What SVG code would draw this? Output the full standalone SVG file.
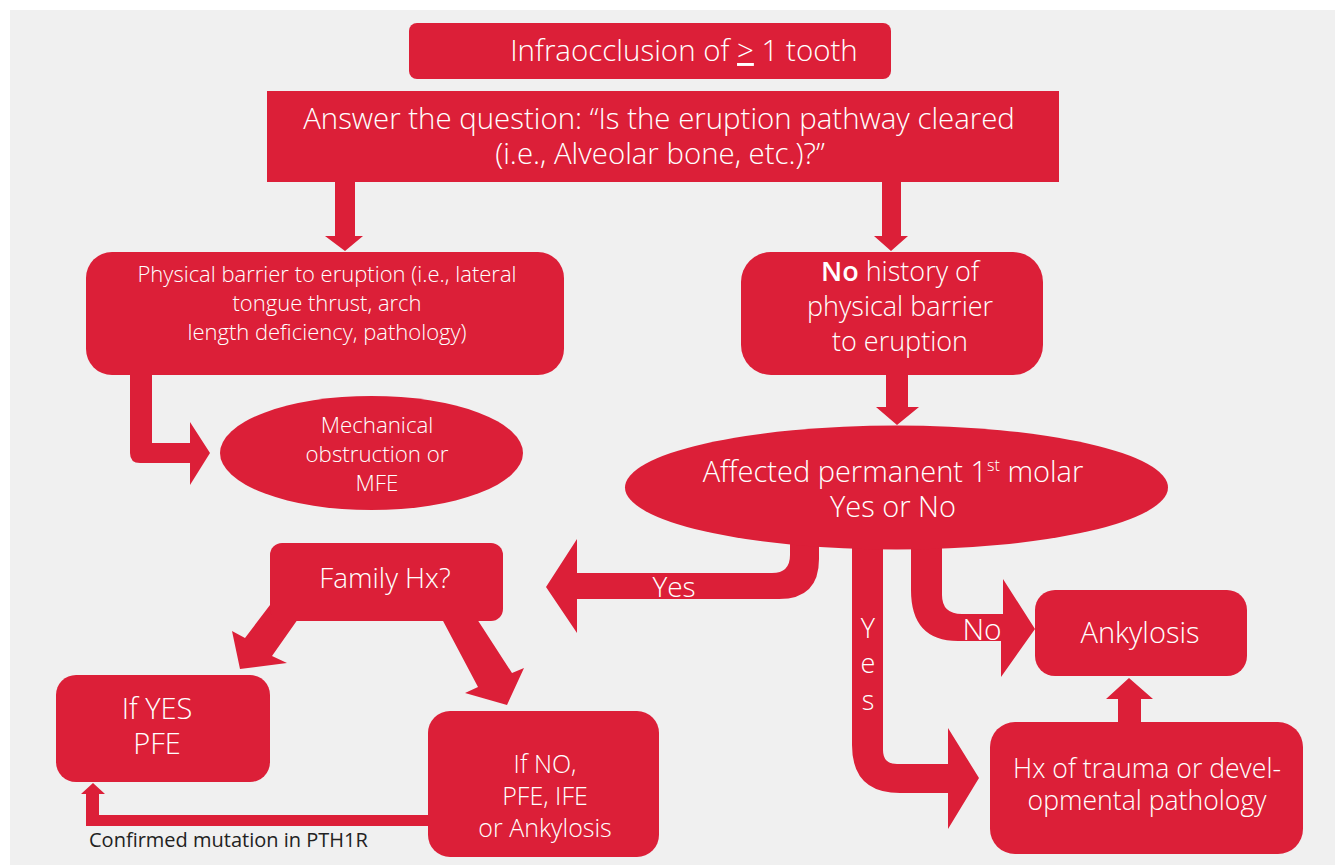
<svg xmlns="http://www.w3.org/2000/svg" width="1335" height="865" viewBox="0 0 1335 865">
<style>
.n{fill:#dc1f38}
.c{fill:#dc1f38}
text{font-family:"Open Sans","Liberation Sans",sans-serif;font-weight:300;fill:#ffffff}
.lbl{font-size:20px;fill:#222222;font-weight:400}
</style>
<rect x="0" y="0" width="1335" height="865" fill="#ffffff"/>
<rect x="10" y="10" width="1325" height="855" fill="#f0f0f0"/>

<g id="connectors">
  <path class="c" d="M335 180 L355 180 L355 236 L363 236 L345 251 L325 236 L335 236 Z"/>
  <path class="c" d="M882 180 L901 180 L901 236 L908 236 L891 251 L874 236 L882 236 Z"/>
  <path class="c" d="M130 372 L152 372 L152 443 L190 443 L190 422 L210 453 L190 485 L190 463 L140 463 Q130 463 130 453 Z"/>
  <path class="c" d="M886 370 L908 370 L908 407 L919 407 L897 425 L876 407 L886 407 Z"/>
  <path class="c" d="M819 540 L819 559 Q819 599 779 599 L577 599 L577 633 L546 587 L577 539 L577 573 L772 573 Q790 573 790 555 L790 540 Z"/>
  <path class="c" d="M852 540 L852 745 Q852 793 900 793 L948 793 L948 829 L979 778 L948 728 L948 764 L897 764 Q883 764 883 750 L883 540 Z"/>
  <path class="c" d="M911 540 L911 590 Q911 641 958 641 L1001 641 L1001 677 L1035 629 L1003 579 L1003 614 L962 614 Q942 614 942 595 L942 540 Z"/>
  <path class="c" d="M1118 724 L1118 699 L1106 699 L1129 678 L1153 699 L1141 699 L1141 724 Z"/>
  <path class="c" d="M270 605 L245 638 L232 631 L240 669 L287 663 L272 656 L298 619 Z"/>
  <path class="c" d="M442 619 L478 687 L465 693 L507 705 L524 668 L512 673 L477 619 Z"/>
  <path class="c" d="M430 815 L99 815 L99 794 L105 794 L93 783 L81 794 L86 794 L86 826 L430 826 Z"/>
  <text font-size="28" x="674" y="597" text-anchor="middle">Yes</text>
  <text font-size="27" x="868" y="638" text-anchor="middle">Y</text>
  <text font-size="27" x="868" y="673" text-anchor="middle">e</text>
  <text font-size="27" x="868" y="710" text-anchor="middle">s</text>
  <text font-size="30" x="982" y="640" text-anchor="middle">No</text>
  <text class="lbl" x="89" y="847">Confirmed mutation in PTH1R</text>
</g>

<g id="node-infraocclusion">
  <rect class="n" x="409" y="23" width="482" height="56" rx="8"/>
  <text font-size="29.5" x="684" y="61" text-anchor="middle">Infraocclusion of <tspan text-decoration="underline">&gt;</tspan> 1 tooth</text>
</g>

<g id="node-question">
  <rect class="n" x="267" y="91" width="792" height="91"/>
  <text font-size="29.4" x="659" y="129" text-anchor="middle">Answer the question: “Is the eruption pathway cleared</text>
  <text font-size="29.4" x="660" y="164" text-anchor="middle">(i.e., Alveolar bone, etc.)?”</text>
</g>

<g id="node-physical-barrier">
  <rect class="n" x="86" y="252" width="478" height="123" rx="26"/>
  <text font-size="22" x="327" y="282" text-anchor="middle">Physical barrier to eruption (i.e., lateral</text>
  <text font-size="22" x="327" y="311" text-anchor="middle">tongue thrust, arch</text>
  <text font-size="22" x="327" y="340" text-anchor="middle">length deficiency, pathology)</text>
</g>

<g id="node-no-history">
  <rect class="n" x="741" y="252" width="302" height="123" rx="30"/>
  <text font-size="27" x="900" y="281" text-anchor="middle"><tspan font-weight="600">No</tspan> history of</text>
  <text font-size="27" x="900" y="316" text-anchor="middle">physical barrier</text>
  <text font-size="27" x="900" y="351" text-anchor="middle">to eruption</text>
</g>

<g id="node-mechanical">
  <ellipse class="n" cx="371.5" cy="453" rx="151.5" ry="57"/>
  <text font-size="22.3" x="377" y="433" text-anchor="middle">Mechanical</text>
  <text font-size="22.3" x="377" y="462" text-anchor="middle">obstruction or</text>
  <text font-size="22.3" x="377" y="491" text-anchor="middle">MFE</text>
</g>

<g id="node-affected">
  <ellipse class="n" cx="896.5" cy="487.5" rx="271.5" ry="62"/>
  <text font-size="29" x="893" y="482" text-anchor="middle">Affected permanent 1<tspan font-size="16" dy="-11">st</tspan><tspan dy="11"> molar</tspan></text>
  <text font-size="29" x="893" y="517" text-anchor="middle">Yes or No</text>
</g>

<g id="node-family">
  <rect class="n" x="270" y="543" width="233" height="78" rx="12"/>
  <text font-size="27.8" x="385" y="588" text-anchor="middle">Family Hx?</text>
</g>

<g id="node-if-yes">
  <rect class="n" x="56" y="675" width="214" height="107" rx="20"/>
  <text font-size="29" x="157" y="719" text-anchor="middle">If YES</text>
  <text font-size="29" x="157" y="754" text-anchor="middle">PFE</text>
</g>

<g id="node-if-no">
  <rect class="n" x="428" y="711" width="231" height="146" rx="22"/>
  <text font-size="25" x="545" y="773" text-anchor="middle">If NO,</text>
  <text font-size="25" x="545" y="805" text-anchor="middle">PFE, IFE</text>
  <text font-size="25" x="545" y="837" text-anchor="middle">or Ankylosis</text>
</g>

<g id="node-ankylosis">
  <rect class="n" x="1035" y="590" width="212" height="86" rx="20"/>
  <text font-size="29" x="1140" y="643" text-anchor="middle">Ankylosis</text>
</g>

<g id="node-hx-trauma">
  <rect class="n" x="990" y="722" width="313" height="132" rx="25"/>
  <text font-size="26.6" x="1147" y="778" text-anchor="middle">Hx of trauma or devel-</text>
  <text font-size="26.6" x="1147" y="810" text-anchor="middle">opmental pathology</text>
</g>
</svg>
